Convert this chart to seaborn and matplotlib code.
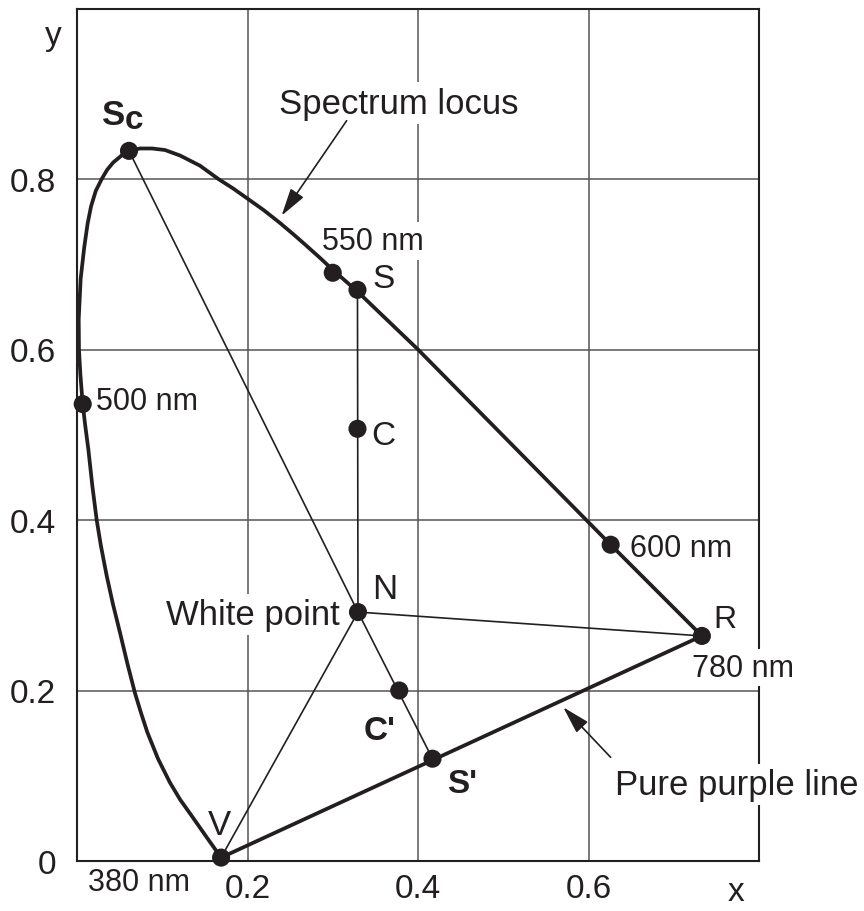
import matplotlib
matplotlib.use("Agg")
import matplotlib.pyplot as plt
import seaborn as sns

# Spectrum locus, traced from the violet end (380 nm) round to the red end (780 nm)
locus_x = [0.169, 0.152, 0.1345, 0.121, 0.109, 0.095, 0.0825, 0.075, 0.068,
           0.059, 0.0504, 0.042, 0.0348, 0.028, 0.0231, 0.018, 0.0133, 0.0095,
           0.0067, 0.0040, 0.0023, 0.0020, 0.0043, 0.0085, 0.0125, 0.0165,
           0.022, 0.029, 0.0355, 0.0426, 0.0543, 0.061, 0.0739, 0.088, 0.1032,
           0.121, 0.1443, 0.1658, 0.183, 0.200, 0.219, 0.238, 0.254, 0.2694,
           0.285, 0.300, 0.329, 0.400, 0.626, 0.733]
locus_y = [0.004, 0.028, 0.053, 0.072, 0.092, 0.120, 0.151, 0.174, 0.197,
           0.232, 0.268, 0.302, 0.3347, 0.370, 0.400, 0.440, 0.483, 0.512,
           0.536, 0.570, 0.600, 0.636, 0.683, 0.720, 0.748, 0.768,
           0.786, 0.800, 0.811, 0.8195, 0.8292, 0.833, 0.8358, 0.8358, 0.834,
           0.8275, 0.8156, 0.800, 0.789, 0.777, 0.7635, 0.7485, 0.735, 0.7215,
           0.7075, 0.6935, 0.668, 0.600, 0.371, 0.264]

# Marked chromaticity points
point_names = ["V", "500 nm", "Sc", "550 nm", "S", "C", "N", "C'", "S'", "600 nm", "R"]
point_x = [0.169, 0.0067, 0.061, 0.300, 0.329, 0.329, 0.3296, 0.378, 0.417, 0.626, 0.733]
point_y = [0.004, 0.536, 0.833, 0.690, 0.670, 0.507, 0.292, 0.200, 0.120, 0.371, 0.264]

x_ticks = [0.2, 0.4, 0.6]
x_tick_labels = ["0.2", "0.4", "0.6"]
y_ticks = [0, 0.2, 0.4, 0.6, 0.8]
y_tick_labels = ["0", "0.2", "0.4", "0.6", "0.8"]

INK = "#231f20"
GRID = "#555555"

sns.set_theme(style="white")
plt.rcParams["font.family"] = ["Liberation Sans", "DejaVu Sans"]

fig = plt.figure(figsize=(8.64, 9.12), dpi=100)
ax = fig.add_axes([77 / 864, 50 / 912, 682 / 864, 852.5 / 912])
ax.set_xlim(0, 0.8)
ax.set_ylim(0, 1.0)

# grid
for gx in x_ticks:
    ax.axvline(gx, color=GRID, lw=1.1, zorder=0.5)
for gy in y_ticks[1:]:
    ax.axhline(gy, color=GRID, lw=1.1, zorder=0.5)

for side in ["left", "right", "top", "bottom"]:
    ax.spines[side].set_visible(True)
    ax.spines[side].set_color(INK)
    ax.spines[side].set_linewidth(1.5)

ax.set_xticks(x_ticks, x_tick_labels)
ax.set_yticks(y_ticks, y_tick_labels)
ax.tick_params(axis="both", length=0, labelsize=24, colors=INK)
ax.tick_params(axis="x", pad=9)
ax.tick_params(axis="y", pad=15)
ax.grid(False)

pts = dict(zip(point_names, zip(point_x, point_y)))

# spectrum locus
sns.lineplot(x=locus_x, y=locus_y, sort=False, estimator=None, color=INK,
             lw=2.7, ax=ax, zorder=4, solid_joinstyle="round")

# pure purple line and construction lines
thick_segments = [("V", "R")]
thin_segments = [("Sc", "N"), ("N", "S'"), ("S", "N"), ("N", "R"), ("N", "V")]
for a, b in thick_segments:
    sns.lineplot(x=[pts[a][0], pts[b][0]], y=[pts[a][1], pts[b][1]], sort=False,
                 estimator=None, color=INK, lw=2.7, ax=ax, zorder=4)
for a, b in thin_segments:
    sns.lineplot(x=[pts[a][0], pts[b][0]], y=[pts[a][1], pts[b][1]], sort=False,
                 estimator=None, color=INK, lw=1.2, ax=ax, zorder=4)

sns.scatterplot(x=point_x, y=point_y, s=170, color=INK, edgecolor="none",
                ax=ax, zorder=6, clip_on=False)

box = dict(boxstyle="square,pad=0.12", fc="white", ec="none")


def label(x, y, s, size=24, ha="left", weight="normal", bg=True):
    ax.text(x, y, s, fontsize=size, ha=ha, va="baseline", color=INK,
            fontweight=weight, zorder=3, clip_on=False,
            bbox=box if bg else None)


# point letters
label(0.0297, 0.864, "S", size=25, weight="bold", bg=False)
label(0.0565, 0.860, "c", size=24, weight="bold", bg=False)
label(0.3468, 0.673, "S")
label(0.3457, 0.489, "C")
label(0.3457, 0.309, "N", size=25)
label(0.7464, 0.274, "R", size=23)
label(0.1666, 0.0317, "V", size=25, ha="center")
label(0.3367, 0.143, "C'", weight="bold")
label(0.434, 0.081, "S'", weight="bold")

# wavelength labels
label(0.3476, 0.7179, "550 nm", size=22, ha="center")
label(0.0219, 0.530, "500 nm", size=22)
label(0.6487, 0.358, "600 nm", size=22)
label(0.781, 0.2174, "780 nm", size=22, ha="center")
label(0.0727, -0.0335, "380 nm", size=22, ha="center", bg=False)

# descriptive labels
label(0.3077, 0.278, "White point", size=25, ha="right")
label(0.3777, 0.878, "Spectrum locus", size=25, ha="center")
label(0.7738, 0.0786, "Pure purple line", size=25, ha="center")

# axis letters
ax.text(-0.028, 0.968, "y", fontsize=24, ha="center", va="center", color=INK)
ax.text(0.773, -0.036, "x", fontsize=24, ha="center", va="center", color=INK)

arrow = dict(arrowstyle="-|>,head_length=0.85,head_width=0.24", color=INK,
             lw=1.2, shrinkA=0, shrinkB=0, mutation_scale=20)
ax.annotate("", xy=(0.240, 0.757), xytext=(0.3163, 0.8684),
            arrowprops=arrow, zorder=5)
ax.annotate("", xy=(0.5704, 0.1803), xytext=(0.626, 0.1216),
            arrowprops=arrow, zorder=5)

fig.savefig("out.png", dpi=100)
